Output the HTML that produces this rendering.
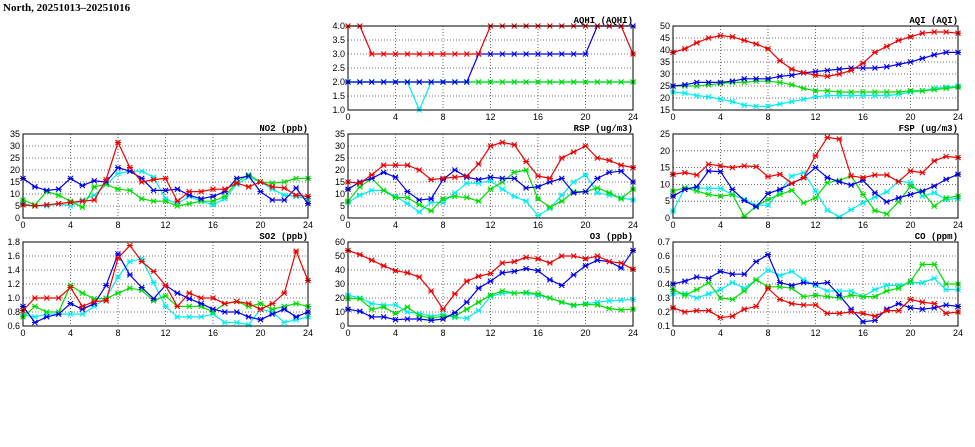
<!DOCTYPE html>
<html><head><meta charset="utf-8"><style>
html,body{margin:0;padding:0;background:#fff;}
svg{display:block;}
text{font-family:"Liberation Sans",sans-serif;font-size:9px;fill:#000;}
</style></head><body>
<svg id="s" width="975" height="447" xmlns="http://www.w3.org/2000/svg">
<text x="3" y="11" style="font-size:11px;font-family:'Liberation Serif',serif;font-weight:bold">North, 20251013–20251016</text>
</svg>
<script>
var P=[
{t:"AQHI (AQHI)",x:348,y:26,ymin:1,ymax:4,step:0.5,dec:1,d:{
g:[2,2,2,2,2,2,2,2,2,2,2,2,2,2,2,2,2,2,2,2,2,2,2,2,2],
c:[2,2,2,2,2,2,1,2,2,2,2,2,2,2,2,2,2,2,2,2,2,2,2,2,2],
b:[2,2,2,2,2,2,2,2,2,2,2,3,3,3,3,3,3,3,3,3,3,4,4,4,4],
r:[4,4,3,3,3,3,3,3,3,3,3,3,4,4,4,4,4,4,4,4,4,4,4,4,3]}},
{t:"AQI (AQI)",x:673,y:26,ymin:15,ymax:50,step:5,dec:0,d:{
g:[25,25,25,25.5,26,26.5,26.5,27,27,26.5,25.5,24,23,23,22.5,22.5,22.5,22.5,22.5,22.5,23,23,23.5,24,24.5],
c:[22.5,22,21,20.5,19.5,18.5,17,16.5,16.5,17.5,18.5,19.5,20.5,21,21,21,21,21,21,21.5,22.5,23,24,24.5,25],
b:[25,25.5,26.5,26.5,26.5,27,28,28,28,29,29.5,30.5,31,31.5,32,32.5,32.5,32.5,33,34,35,36.5,38,39,39],
r:[39,40.5,43,45,46,45.5,44,42.5,40.5,35.5,32,30.5,29.5,29,30,31.5,34.5,39,41.5,44,45.5,47,47.5,47.5,47]}},
{t:"NO2 (ppb)",x:23,y:134,ymin:0,ymax:35,step:5,dec:0,d:{
g:[7.5,5.5,11,9.5,7,4.5,13,14,12,11.5,8,7,7,5,6,7,7,9,15,18,15,14.5,15,16.5,16.5],
c:[6,5,5,6,5,7.5,9.5,14,18.5,19.5,19.5,17,8,6,9,7,5.5,8,14,17,15,12,9.5,9,8],
b:[16.5,13,11.5,12,16.5,13.5,15.5,15,21,19.5,16.5,11.5,11.5,12,9.5,8,9,11,16.5,17.5,11,7.5,7.5,12.5,6],
r:[5.5,5,5.5,6,6.5,7,7.5,16,31.5,21,15,16,16.5,7,11,11,12,12,14.5,13,15,13,12.5,9.5,9]}},
{t:"RSP (ug/m3)",x:348,y:134,ymin:0,ymax:35,step:5,dec:0,d:{
g:[7,13,16.5,11.5,8.5,8.5,5.5,3,8,9,8.5,7,12,15,19,20,8,4.5,7,11,11,12.5,10.5,8,12],
c:[6.5,9.5,11.5,11.5,9,6,2.5,6.5,6.5,10.5,14.5,14.5,15.5,12,9,7,1,4,9.5,15,18,10.5,9.5,8.5,7.5],
b:[12,15,16.5,19,17,11,7.5,8,16,20,17,16,17,16.5,16.5,12.5,13,15,16.5,10.5,11,16.5,19,19.5,15],
r:[15,14.5,18,22,22,22,20,16,16.5,17,17.5,22.5,30,31.5,30.5,23.5,17.5,16.5,25,27.5,30,25,24,22,21]}},
{t:"FSP (ug/m3)",x:673,y:134,ymin:0,ymax:25,step:5,dec:0,d:{
g:[8,9,8,7,6.5,7,0.5,3.5,5.5,7,8.2,4.5,6,10.5,11.2,12.5,7,2.2,1.2,4.8,9.5,7.8,3.5,6,6.5],
c:[2,9,9,8.8,8.8,7,5.5,3.8,3.8,8,12.5,13.5,8,2.3,0.3,2.5,4.5,6.2,7.8,11,10.5,6.5,7.5,5.5,5.8],
b:[6.5,8.5,9.3,14,13.8,8.5,5.2,3.3,7.3,8.5,10.3,12,15,12,10.8,9.8,11.2,7.5,4.8,6,7,8,9.5,11.5,13],
r:[13,13.5,12.8,16,15.5,15,15.5,15.3,12.3,13,10.3,12,18.5,24,23.5,12.5,12,12.8,12.8,10.8,14,13.5,17,18.3,18]}},
{t:"SO2 (ppb)",x:23,y:242,ymin:0.6,ymax:1.8,step:0.2,dec:1,d:{
g:[.73,.88,.8,.8,1.18,1.07,.99,.99,1.07,1.14,1.11,.96,1.03,.88,.88,.88,.8,.92,.95,.88,.92,.84,.88,.92,.88],
c:[.76,.73,.77,.77,.77,.77,.88,1.0,1.3,1.52,1.56,1.22,.88,.73,.73,.73,.77,.65,.65,.62,.84,.8,.65,.69,.73],
b:[.88,.65,.73,.77,.92,.84,.92,1.18,1.63,1.33,1.15,.99,1.18,1.07,.99,.92,.84,.8,.8,.73,.69,.77,.84,.73,.8],
r:[.82,1.0,1.0,1.0,1.15,.88,.95,.96,1.57,1.75,1.52,1.38,1.18,.88,1.07,1.0,1.0,.92,.95,.92,.84,.92,1.07,1.67,1.25]}},
{t:"O3 (ppb)",x:348,y:242,ymin:0,ymax:60,step:10,dec:0,d:{
g:[19.5,19.5,12,13.5,9,13.5,7.5,5.5,7,7,12,17,22,25,23.5,24,23,20,17,15,15.5,15,12.5,11.5,12],
c:[22,20,16,15,15,10,9,7,8.5,6,5.5,11,21,23.5,23.5,23.5,22,20,17,14.5,16,17,18,18.5,19],
b:[12,10.5,6.5,6.5,4.5,5,5,4,5,9.5,17,27,32,38,39,41,39.5,33,29,36.5,43,47,46,41.5,54],
r:[54,51,47,43,39.5,38,35,25,12,23,32,35.5,37.5,45,46,49,48,45,50,50,48,50,46,45,40.5]}},
{t:"CO (ppm)",x:673,y:242,ymin:0.1,ymax:0.7,step:0.1,dec:1,d:{
g:[.36,.32,.36,.41,.30,.29,.35,.43,.38,.38,.37,.31,.32,.31,.30,.32,.31,.31,.35,.37,.42,.54,.54,.40,.40],
c:[.33,.33,.30,.33,.36,.41,.37,.43,.50,.46,.49,.43,.39,.35,.35,.35,.31,.36,.39,.39,.41,.41,.44,.36,.36],
b:[.40,.42,.45,.44,.49,.47,.47,.56,.61,.41,.39,.41,.40,.41,.32,.22,.13,.14,.22,.26,.23,.22,.23,.25,.24],
r:[.23,.20,.21,.21,.16,.17,.22,.24,.37,.29,.26,.25,.25,.19,.19,.20,.19,.17,.21,.21,.29,.27,.26,.19,.20]}}
];
var W=285,H=84,o='';
var col={g:"#00dd00",c:"#00eeee",b:"#0000ee",r:"#ee0000"};
P.forEach(function(p){
 var X=function(i){return p.x+i*W/24},Y=function(v){return p.y+H-(v-p.ymin)/(p.ymax-p.ymin)*H};
 var n=Math.round((p.ymax-p.ymin)/p.step);
 for(var k=0;k<=n;k++){var v=p.ymin+k*p.step,y=Y(v).toFixed(1);
  if(k>0&&k<n)o+='<line x1="'+p.x+'" x2="'+(p.x+W)+'" y1="'+y+'" y2="'+y+'" stroke="#444" stroke-width="0.8" stroke-dasharray="1,2"/>';
  o+='<text x="'+(p.x-3)+'" y="'+(+y+3)+'" text-anchor="end">'+v.toFixed(p.dec)+'</text>';}
 for(var h=0;h<=24;h+=4){var x=X(h).toFixed(1);
  if(h>0&&h<24)o+='<line x1="'+x+'" x2="'+x+'" y1="'+p.y+'" y2="'+(p.y+H)+'" stroke="#444" stroke-width="0.8" stroke-dasharray="1,2"/>';
  o+='<text x="'+x+'" y="'+(p.y+H+10)+'" text-anchor="middle">'+h+'</text>';}
 o+='<text x="'+(p.x+W)+'" y="'+(p.y-3)+'" text-anchor="end" style="font-family:\'Liberation Mono\',monospace;font-weight:bold;font-size:9px">'+p.t+'</text>';
 ["c","g","b","r"].forEach(function(s){var a=p.d[s],pts=a.map(function(v,i){return X(i).toFixed(1)+','+Y(v).toFixed(1)}).join(' ');
  o+='<polyline points="'+pts+'" fill="none" stroke="'+col[s]+'" stroke-width="1.2"/>';
  a.forEach(function(v,i){var x=X(i),y=Y(v);
   o+='<path d="M'+(x-2.5)+' '+(y-2.5)+'L'+(x+2.5)+' '+(y+2.5)+'M'+(x-2.5)+' '+(y+2.5)+'L'+(x+2.5)+' '+(y-2.5)+'M'+(x-3)+' '+y+'L'+(x+3)+' '+y+'" stroke="'+col[s]+'" stroke-width="1.1"/>';});});
 o+='<rect x="'+p.x+'" y="'+p.y+'" width="'+W+'" height="'+H+'" fill="none" stroke="#000" stroke-width="1"/>';
});
document.getElementById('s').insertAdjacentHTML('beforeend',o);
</script>
</body></html>
